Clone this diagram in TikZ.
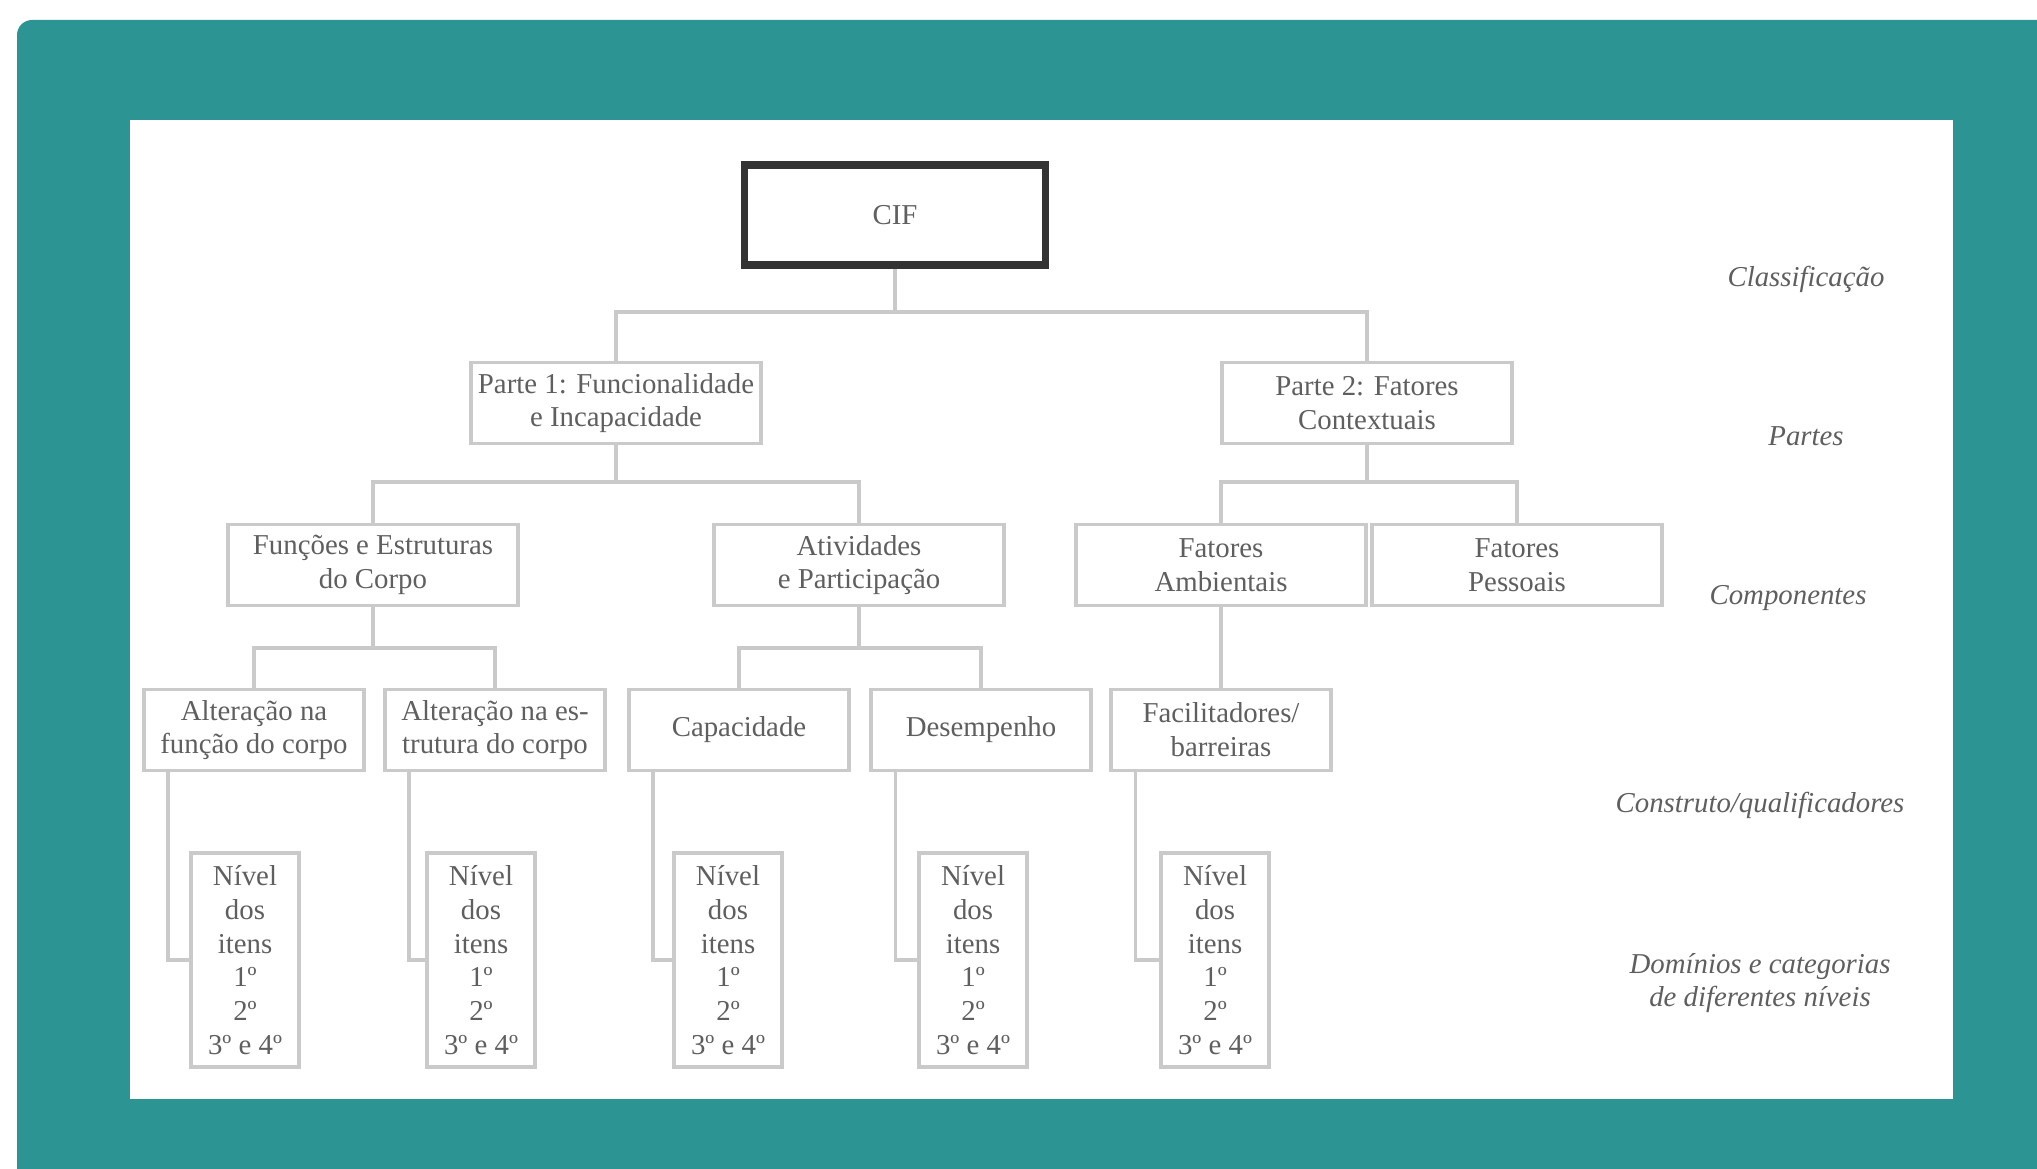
\documentclass[tikz,border=0pt]{standalone}
\usepackage{fontspec}
\setmainfont{Liberation Serif}
\usetikzlibrary{positioning}
\definecolor{cifteal}{RGB}{45,148,148}
\definecolor{linegray}{RGB}{202,202,202}
\definecolor{txtgray}{RGB}{95,95,95}

\begin{document}
\begin{tikzpicture}[x=0.1mm, y=-0.1mm,
    every node/.style={font=\fontsize{8.2}{9.6}\selectfont, text=txtgray},
    box/.style={draw=linegray, line width=1.1pt, align=center, inner sep=0pt,
        minimum height=8.1mm, minimum width=29mm},
    smallbox/.style={box, minimum width=22mm},
    nivel/.style={box, minimum width=10.8mm, minimum height=21.4mm},
    cifbox/.style={draw=black!80, line width=2pt, inner sep=0pt,
        minimum width=30.1mm, minimum height=10mm},
    side/.style={font=\fontsize{8.2}{9.6}\selectfont\itshape, align=center},
    conn/.style={draw=linegray, line width=0.9pt}]

\useasboundingbox (0,0) rectangle (2037,1169);
\fill[cifteal, rounded corners=1.5mm] (17,20) rectangle (2080,1200);
\fill[white] (130,120) rectangle (1953,1099);

\coordinate (lvA) at (0,312);
\coordinate (lvB) at (0,482);
\coordinate (lvC) at (0,648);

\node[cifbox] (cif) at (895,215) {CIF};

\node[box] (p1) at (616,403) {Parte 1: Funcionalidade\\e Incapacidade};
\node[box] (p2) at (1367,403) {Parte 2: Fatores\\Contextuais};

\node[box] (fun) at (373,565) {Funções e Estruturas\\do Corpo};
\node[box] (atv) at (859,565) {Atividades\\e Participação};
\node[box] (fa) at (1221,565) {Fatores\\Ambientais};
\node[box] (fp) at (1517,565) {Fatores\\Pessoais};

\node[smallbox] (alf) at (254,730) {Alteração na\\função do corpo};
\node[smallbox] (ale) at (495,730) {Alteração na es-\\trutura do corpo};
\node[smallbox] (cap) at (739,730) {Capacidade};
\node[smallbox] (des) at (981,730) {Desempenho};
\node[smallbox] (fac) at (1221,730) {Facilitadores/\\barreiras};

\draw[conn] (cif.south) -- (cif.south |- lvA);
\draw[conn] (p1.north) -- (p1.north |- lvA) -- (p2.north |- lvA) -- (p2.north);

\draw[conn] (p1.south) -- (p1.south |- lvB);
\draw[conn] (fun.north) -- (fun.north |- lvB) -- (atv.north |- lvB) -- (atv.north);
\draw[conn] (p2.south) -- (p2.south |- lvB);
\draw[conn] (fa.north) -- (fa.north |- lvB) -- (fp.north |- lvB) -- (fp.north);

\draw[conn] (fun.south) -- (fun.south |- lvC);
\draw[conn] (alf.north) -- (alf.north |- lvC) -- (ale.north |- lvC) -- (ale.north);
\draw[conn] (atv.south) -- (atv.south |- lvC);
\draw[conn] (cap.north) -- (cap.north |- lvC) -- (des.north |- lvC) -- (des.north);
\draw[conn] (fa.south) -- (fac.north);

\foreach \up/\nx [count=\i] in {alf/245, ale/481, cap/728, des/973, fac/1215} {
    \node[nivel] (n\i) at (\nx,960) {Nível\\dos\\itens\\1º\\2º\\3º e 4º};
    \draw[conn] ([xshift=2.6mm]\up.south west) |- (n\i.west);
}

\node[side] (cl) at (1806,279) {Classificação};
\node[side] (pa) at (1806,436) {Partes};
\node[side] (co) at (1788,598) {Componentes};
\node[side] (cq) at (1760,805) {Construto/qualificadores};
\node[side] (dc) at (1760,983) {Domínios e categorias\\de diferentes níveis};

\end{tikzpicture}
\end{document}
